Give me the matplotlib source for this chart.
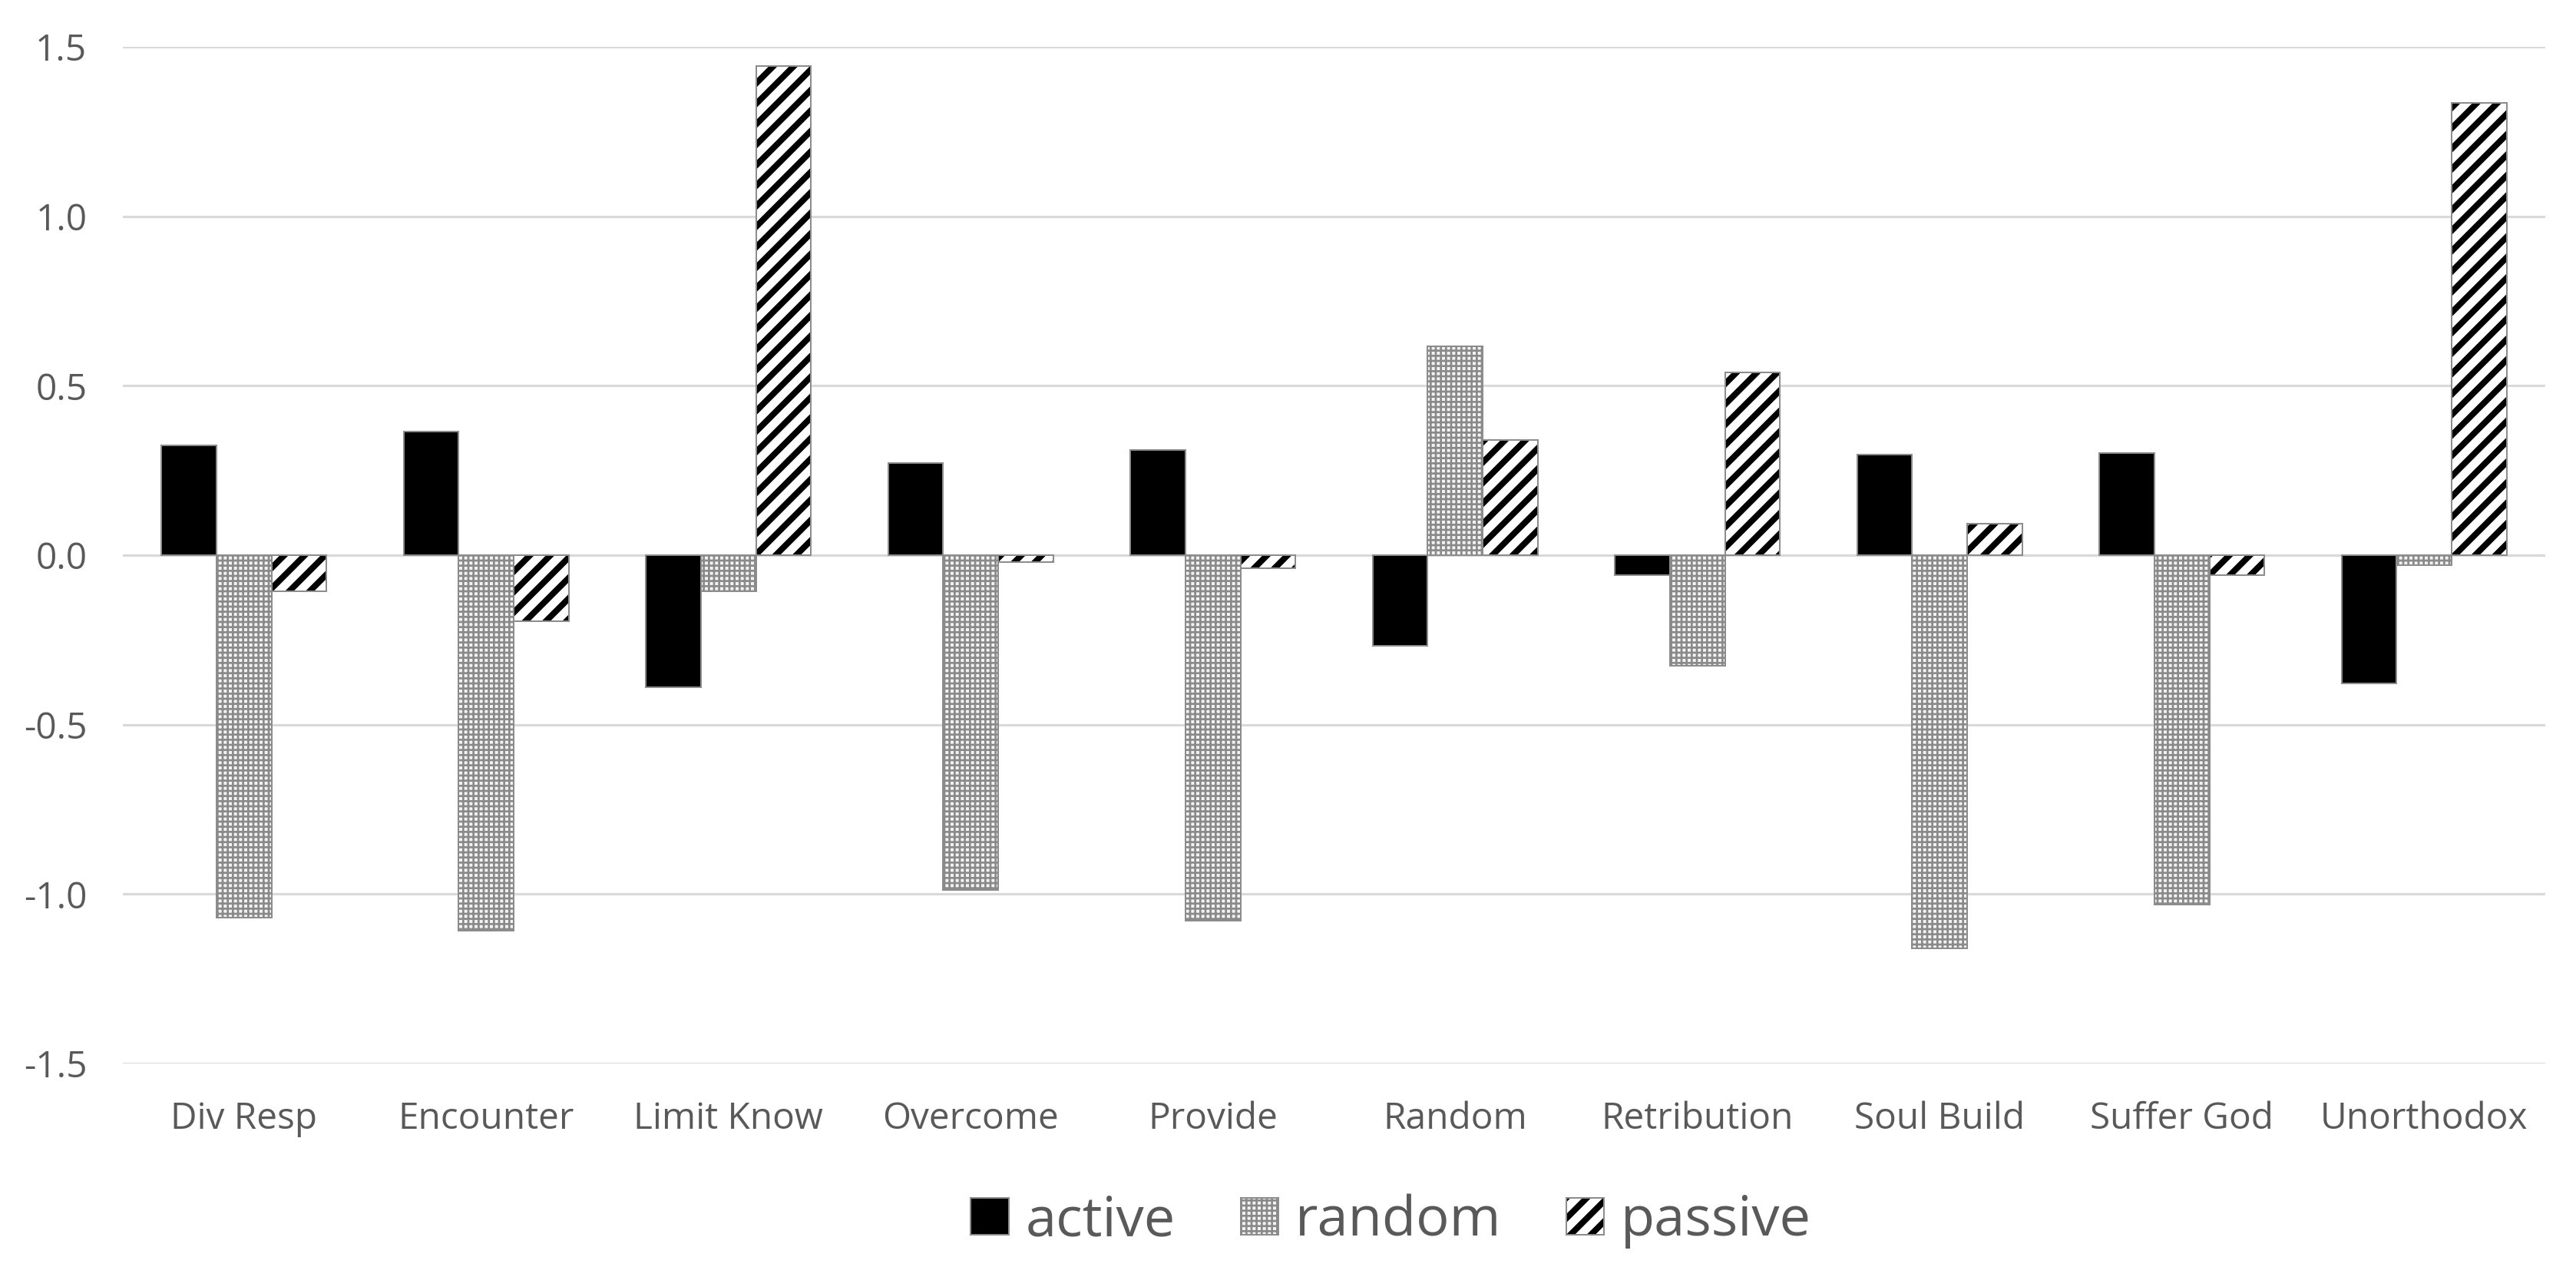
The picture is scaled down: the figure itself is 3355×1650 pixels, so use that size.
import matplotlib
matplotlib.use("Agg")
import matplotlib.pyplot as plt
import numpy as np

categories = ["Div Resp", "Encounter", "Limit Know", "Overcome", "Provide",
              "Random", "Retribution", "Soul Build", "Suffer God", "Unorthodox"]
active = [0.323, 0.365, -0.389, 0.272, 0.311, -0.267, -0.058, 0.296, 0.301, -0.379]
random_ = [-1.070, -1.108, -0.107, -0.987, -1.079, 0.617, -0.326, -1.160, -1.030, -0.030]
passive = [-0.107, -0.194, 1.444, -0.020, -0.039, 0.340, 0.540, 0.092, -0.058, 1.334]
series_names = ["active", "random", "passive"]
yticks = [-1.5, -1.0, -0.5, 0.0, 0.5, 1.0, 1.5]

DPI = 160
plt.rcParams['font.family'] = ['Open Sans', 'DejaVu Sans']

fig = plt.figure(figsize=(3355 / DPI, 1650 / DPI), dpi=DPI)
ax = fig.add_axes([160 / 3355, 1 - 1385 / 1650, (3315 - 160) / 3355, (1385 - 61) / 1650])

x = np.arange(len(categories))
w = 0.227
edge_gray = "#8c8c8c"
text_gray = "#595959"

styles = [
    dict(facecolor="black", hatch=None, hcolor="black", hlw=1.0),
    dict(facecolor="#f2f2f2", hatch="++++", hcolor="#8a8a8a", hlw=1.2),
    dict(facecolor="white", hatch="//", hcolor="black", hlw=3.6),
]

handles = []
for i, (vals, st) in enumerate(zip([active, random_, passive], styles)):
    with plt.rc_context({'hatch.linewidth': st['hlw']}):
        fill = ax.bar(x + (i - 1) * w, vals, width=w, color=st['facecolor'],
                      edgecolor=st['hcolor'], hatch=st['hatch'], linewidth=0, zorder=3)
        for p in fill:
            if hasattr(p, 'set_hatch_linewidth'):
                p.set_hatch_linewidth(st['hlw'])
    outline = ax.bar(x + (i - 1) * w, vals, width=w, fill=False,
                     edgecolor=edge_gray, linewidth=0.9, zorder=4)
    handles.append((fill[0], outline[0]))

has_hlw = hasattr(matplotlib.patches.Patch, 'set_hatch_linewidth')
if not has_hlw:
    plt.rcParams['hatch.linewidth'] = 3.6

ax.set_xlim(-0.5, len(categories) - 0.5)
ax.set_ylim(-1.5, 1.5)
ax.set_yticks(yticks)
ax.set_yticklabels([f"{t:.1f}" for t in yticks])
ax.set_xticks(x)
ax.set_xticklabels(categories)
ax.tick_params(axis='both', length=0, labelsize=21.5, colors=text_gray)
ax.tick_params(axis='y', pad=21)
ax.tick_params(axis='x', pad=22)
ax.grid(axis='y', color="#d9d9d9", linewidth=1.4, zorder=0)
ax.set_axisbelow(True)
for s in ax.spines.values():
    s.set_visible(False)

leg = fig.legend(handles, series_names, loc='center', bbox_to_anchor=(0.540, 0.036),
                 ncol=3, frameon=False, fontsize=32.5, handlelength=0.68,
                 handleheight=0.63, handletextpad=0.3, columnspacing=1.18)
for t in leg.get_texts():
    t.set_color(text_gray)
if has_hlw:
    lh = getattr(leg, 'legend_handles', None) or getattr(leg, 'legendHandles', [])
    for h, st in zip(lh, styles):
        if hasattr(h, 'set_hatch_linewidth'):
            h.set_hatch_linewidth(st['hlw'])

fig.savefig("out.png", dpi=DPI, facecolor="white")
